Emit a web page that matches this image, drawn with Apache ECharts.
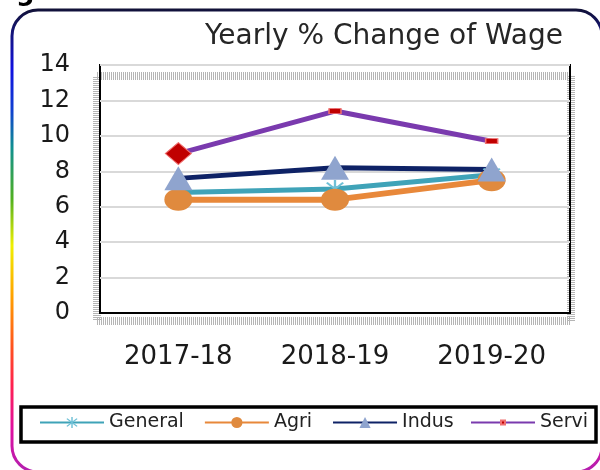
<!DOCTYPE html>
<html>
<head>
<meta charset="utf-8">
<script src="https://cdn.jsdelivr.net/npm/echarts@6/dist/echarts.min.js"></script>
<style>
html, body { margin: 0; padding: 0; background: #fff; }
#chart { width: 600px; height: 470px; }
</style>
</head>
<body>
<div id="chart"></div>
<script>
var years = ['2017-18', '2018-19', '2019-20'];
var general = [6.8, 7.0, 7.8];
var agri = [6.4, 6.4, 7.5];
var indus = [7.6, 8.2, 8.1];
var servi = [9.0, 11.4, 9.7];
var yTicks = { min: 0, max: 14, step: 2 };

var chart = echarts.init(document.getElementById('chart'));
var font = 'DejaVu Sans';

// asterisk marker like the excel one
var starPath = 'path://M-1,-10L1,-10L1,10L-1,10Z M-6.3,-7.7L7.7,6.3L6.3,7.7L-7.7,-6.3Z M6.3,-7.7L7.7,-6.3L-6.3,7.7L-7.7,6.3Z';

var serviData = servi.map(function(v, i) {
	if (i == 0) {
		return { value: v, symbol: 'diamond', symbolSize: [26, 22] };
	}
	return v;
});

var legendText = { fontFamily: font, fontSize: 19, color: '#222' };

var option = {
	backgroundColor: '#fff',
	animation: false,
	title: {
		text: 'Yearly % Change of Wage',
		right: 37,
		top: 23,
		padding: 0,
		textStyle: { fontFamily: font, fontSize: 28, fontWeight: 'normal', color: '#262626' }
	},
	grid: {
		left: 100,
		right: 30,
		top: 65,
		bottom: 157,
		show: true,
		borderColor: '#000',
		borderWidth: 2,
		backgroundColor: 'transparent'
	},
	// two legends so the Servi marker can stay a thin dash
	legend: [{
		left: 39,
		top: 413,
		padding: 0,
		itemGap: 20,
		itemWidth: 64,
		itemHeight: 14,
		textStyle: legendText,
		data: ['General', 'Agri', 'Indus']
	}, {
		left: 470,
		top: 413,
		padding: 0,
		itemWidth: 64,
		itemHeight: 5,
		textStyle: legendText,
		data: ['Servi']
	}],
	xAxis: {
		type: 'category',
		data: years,
		boundaryGap: true,
		axisTick: { show: false },
		axisLine: { lineStyle: { color: '#000', width: 2 } },
		axisLabel: { margin: 31, fontFamily: font, fontSize: 26, color: '#1a1a1a' }
	},
	yAxis: {
		type: 'value',
		min: yTicks.min,
		max: yTicks.max,
		interval: yTicks.step,
		axisLine: { show: false },
		axisTick: { show: false },
		axisLabel: { margin: 30, fontFamily: font, fontSize: 24, color: '#1a1a1a' },
		splitLine: { lineStyle: { color: '#d9d9d9', width: 2 } }
	},
	series: [{
		name: 'General',
		type: 'line',
		data: general,
		symbol: starPath,
		symbolSize: 18,
		color: '#4BACC6',
		lineStyle: { width: 5, color: '#3FA3B8' },
		itemStyle: { color: '#6FC0D6' }
	}, {
		name: 'Agri',
		type: 'line',
		data: agri,
		symbol: 'circle',
		symbolSize: [28, 22],
		color: '#E48A3C',
		lineStyle: { width: 6, color: '#E8883A' },
		itemStyle: { color: '#E08A3E' }
	}, {
		name: 'Indus',
		type: 'line',
		data: indus,
		symbol: 'triangle',
		symbolSize: [28, 24],
		color: '#0E2266',
		lineStyle: { width: 5, color: '#0E2266' },
		itemStyle: { color: '#8FA4CE' }
	}, {
		name: 'Servi',
		type: 'line',
		data: serviData,
		symbol: 'rect',
		symbolSize: [12, 5],
		color: '#7A3AAE',
		lineStyle: { width: 5, color: '#7A3AAE' },
		itemStyle: { color: '#C00000', borderColor: '#F07070', borderWidth: 1 }
	}],
	graphic: [{
		type: 'rect',
		z: -1,
		shape: { x: 97, y: 76, width: 474, height: 245 },
		style: { fill: 'none', stroke: '#b5b5b5', lineWidth: 8, lineDash: [1, 1] }
	}, {
		type: 'rect',
		shape: { x: 21, y: 407, width: 575, height: 35 },
		style: { fill: 'none', stroke: '#000', lineWidth: 3.5 }
	}, {
		type: 'rect',
		shape: { x: 12, y: 10, width: 590, height: 462, r: 26 },
		style: {
			fill: 'none',
			lineWidth: 3,
			stroke: new echarts.graphic.LinearGradient(0, 0, 0, 1, [
				{ offset: 0, color: '#111133' },
				{ offset: 0.04, color: '#141466' },
				{ offset: 0.13, color: '#1010e0' },
				{ offset: 0.22, color: '#1040d0' },
				{ offset: 0.30, color: '#109090' },
				{ offset: 0.41, color: '#50b020' },
				{ offset: 0.51, color: '#f0f000' },
				{ offset: 0.62, color: '#ffa000' },
				{ offset: 0.73, color: '#ff5020' },
				{ offset: 0.81, color: '#ff2050' },
				{ offset: 0.90, color: '#e010a0' },
				{ offset: 1, color: '#b020b0' }
			])
		}
	}, {
		type: 'text',
		style: { x: 16, y: -7, text: 'g', fontFamily: font, fontSize: 26, fontWeight: 'bold', fill: '#000', verticalAlign: 'middle' }
	}]
};

chart.setOption(option);
</script>
</body>
</html>
